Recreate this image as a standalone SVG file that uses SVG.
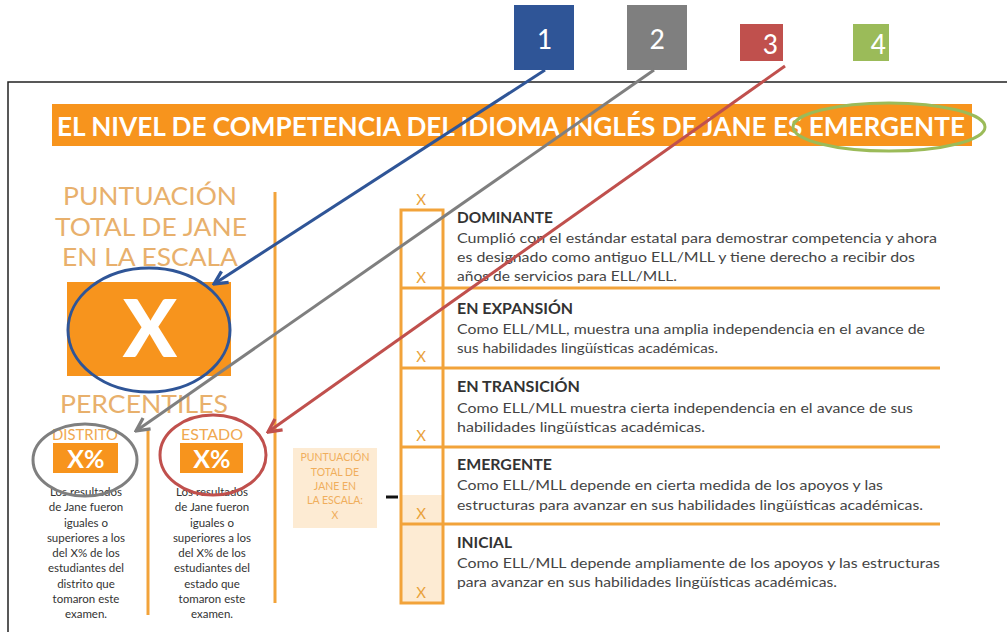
<svg xmlns="http://www.w3.org/2000/svg" width="1007" height="632" viewBox="0 0 1007 632">
<style>
.tan{font-family:Lato,"Open Sans",sans-serif;fill:#E8B06C;text-anchor:middle}
.wh{font-family:Lato,"Open Sans",sans-serif;font-weight:bold;fill:#fff;text-anchor:middle}
.sm{font-family:Lato,"Open Sans",sans-serif;font-size:11.5px;fill:#333;text-anchor:middle}
.hd{font-family:Lato,"Open Sans",sans-serif;font-size:15px;font-weight:bold;fill:#333}
.ds{font-family:Lato,"Open Sans",sans-serif;font-size:14px;fill:#444}
.xm{font-family:Lato,"Open Sans",sans-serif;font-size:15px;fill:#E9A23B;text-anchor:middle}
.ol{stroke:#F2A33A;stroke-width:3;fill:none}
.num{font-family:Calibri,"Liberation Sans",sans-serif;font-size:30px;fill:#fff;text-anchor:middle}
.conn{fill:none;stroke-width:3}
</style>
<defs>
<marker id="aB" viewBox="0 0 10 10" refX="9" refY="5" markerWidth="5.5" markerHeight="5.5" orient="auto"><path d="M1,1 L9,5 L1,9" fill="none" stroke="#2F5597" stroke-width="2"/></marker>
<marker id="aG" viewBox="0 0 10 10" refX="9" refY="5" markerWidth="5.5" markerHeight="5.5" orient="auto"><path d="M1,1 L9,5 L1,9" fill="none" stroke="#7F7F7F" stroke-width="2"/></marker>
<marker id="aR" viewBox="0 0 10 10" refX="9" refY="5" markerWidth="5.5" markerHeight="5.5" orient="auto"><path d="M1,1 L9,5 L1,9" fill="none" stroke="#C0504D" stroke-width="2"/></marker>
</defs>
<rect width="1007" height="632" fill="#fff"/>
<path d="M8,632 V82 H1007" fill="none" stroke="#222" stroke-width="1.5"/>

<g id="title">
<rect x="52" y="104" width="920" height="42" fill="#F7941D"/>
<text x="57" y="136" class="wh" style="text-anchor:start;font-size:27px" textLength="908" lengthAdjust="spacingAndGlyphs">EL NIVEL DE COMPETENCIA DEL IDIOMA INGLÉS DE JANE ES EMERGENTE</text>
</g>

<g id="score">
<text x="150" y="205" class="tan" style="font-size:25px" textLength="174" lengthAdjust="spacingAndGlyphs">PUNTUACIÓN</text>
<text x="151" y="236" class="tan" style="font-size:25px" textLength="192" lengthAdjust="spacingAndGlyphs">TOTAL DE JANE</text>
<text x="150" y="266" class="tan" style="font-size:25px" textLength="176" lengthAdjust="spacingAndGlyphs">EN LA ESCALA</text>
<rect x="67" y="282" width="164" height="94" fill="#F7941D"/>
<text x="150" y="357" class="wh" style="font-size:80px;font-weight:900">X</text>
</g>

<g id="percentiles">
<text x="144" y="413" class="tan" style="font-size:25px" textLength="168" lengthAdjust="spacingAndGlyphs">PERCENTILES</text>
<line x1="148" y1="430" x2="148" y2="615" class="ol"/>
<line x1="275" y1="192" x2="275" y2="603" class="ol"/>
</g>

<g id="distrito">
<text x="85" y="440" class="tan" style="font-size:16px;fill:#F0A850" textLength="66" lengthAdjust="spacingAndGlyphs">DISTRITO</text>
<rect x="53" y="443" width="65" height="30" fill="#F7941D"/>
<text x="86" y="468" class="wh" style="font-size:25px">X%</text>
<text class="sm"><tspan x="86" y="496">Los resultados</tspan><tspan x="86" y="511">de Jane fueron</tspan><tspan x="86" y="527">iguales o</tspan><tspan x="86" y="542">superiores a los</tspan><tspan x="86" y="557">del X% de los</tspan><tspan x="86" y="572">estudiantes del</tspan><tspan x="86" y="588">distrito que</tspan><tspan x="86" y="603">tomaron este</tspan><tspan x="86" y="618">examen.</tspan></text>
</g>

<g id="estado">
<text x="212" y="440" class="tan" style="font-size:16px;fill:#F0A850" textLength="62" lengthAdjust="spacingAndGlyphs">ESTADO</text>
<rect x="180" y="443" width="63" height="30" fill="#F7941D"/>
<text x="212" y="468" class="wh" style="font-size:25px">X%</text>
<text class="sm"><tspan x="212" y="496">Los resultados</tspan><tspan x="212" y="511">de Jane fueron</tspan><tspan x="212" y="527">iguales o</tspan><tspan x="212" y="542">superiores a los</tspan><tspan x="212" y="557">del X% de los</tspan><tspan x="212" y="572">estudiantes del</tspan><tspan x="212" y="588">estado que</tspan><tspan x="212" y="603">tomaron este</tspan><tspan x="212" y="618">examen.</tspan></text>
</g>

<g id="scorebox">
<rect x="293" y="448" width="84" height="80" fill="#FDEBD3"/>
<text class="tan" style="font-size:10.5px;fill:#F0AE5C"><tspan x="335" y="461">PUNTUACIÓN</tspan><tspan x="335" y="476">TOTAL DE</tspan><tspan x="335" y="490">JANE EN</tspan><tspan x="335" y="504">LA ESCALA:</tspan><tspan x="335" y="519">X</tspan></text>
<line x1="386" y1="497" x2="398" y2="497" stroke="#111" stroke-width="3"/>
</g>

<g id="levels">
<rect x="401" y="495" width="42" height="108" fill="#FDEBD3"/>
<rect x="401" y="210" width="42" height="393" class="ol"/>
<line x1="401" y1="288" x2="940" y2="288" class="ol"/>
<line x1="401" y1="368" x2="940" y2="368" class="ol"/>
<line x1="401" y1="447" x2="940" y2="447" class="ol"/>
<line x1="401" y1="524" x2="940" y2="524" class="ol"/>
<text x="421" y="205" class="xm">X</text>
<text x="421" y="283" class="xm">X</text>
<text x="421" y="362" class="xm">X</text>
<text x="421" y="441" class="xm">X</text>
<text x="421" y="519" class="xm">X</text>
<text x="421" y="598" class="xm">X</text>
</g>

<g id="dominante">
<text x="457" y="223" class="hd" textLength="96" lengthAdjust="spacingAndGlyphs">DOMINANTE</text>
<text x="457" y="243" class="ds" textLength="480" lengthAdjust="spacingAndGlyphs">Cumplió con el estándar estatal para demostrar competencia y ahora</text>
<text x="457" y="262" class="ds" textLength="458" lengthAdjust="spacingAndGlyphs">es designado como antiguo ELL/MLL y tiene derecho a recibir dos</text>
<text x="457" y="281" class="ds" textLength="220" lengthAdjust="spacingAndGlyphs">años de servicios para ELL/MLL.</text>
</g>
<g id="expansion">
<text x="457" y="314" class="hd" textLength="116" lengthAdjust="spacingAndGlyphs">EN EXPANSIÓN</text>
<text x="457" y="334" class="ds" textLength="468" lengthAdjust="spacingAndGlyphs">Como ELL/MLL, muestra una amplia independencia en el avance de</text>
<text x="457" y="353" class="ds" textLength="261" lengthAdjust="spacingAndGlyphs">sus habilidades lingüísticas académicas.</text>
</g>
<g id="transicion">
<text x="457" y="392" class="hd" textLength="123" lengthAdjust="spacingAndGlyphs">EN TRANSICIÓN</text>
<text x="457" y="413" class="ds" textLength="456" lengthAdjust="spacingAndGlyphs">Como ELL/MLL muestra cierta independencia en el avance de sus</text>
<text x="457" y="432" class="ds" textLength="248" lengthAdjust="spacingAndGlyphs">habilidades lingüísticas académicas.</text>
</g>
<g id="emergente">
<text x="457" y="470" class="hd" textLength="95" lengthAdjust="spacingAndGlyphs">EMERGENTE</text>
<text x="457" y="490" class="ds" textLength="426" lengthAdjust="spacingAndGlyphs">Como ELL/MLL depende en cierta medida de los apoyos y las</text>
<text x="457" y="510" class="ds" textLength="466" lengthAdjust="spacingAndGlyphs">estructuras para avanzar en sus habilidades lingüísticas académicas.</text>
</g>
<g id="inicial">
<text x="457" y="548" class="hd" textLength="55" lengthAdjust="spacingAndGlyphs">INICIAL</text>
<text x="457" y="568" class="ds" textLength="483" lengthAdjust="spacingAndGlyphs">Como ELL/MLL depende ampliamente de los apoyos y las estructuras</text>
<text x="457" y="587" class="ds" textLength="380" lengthAdjust="spacingAndGlyphs">para avanzar en sus habilidades lingüísticas académicas.</text>
</g>

<g id="callout1"><rect x="514" y="5" width="60" height="65" fill="#2F5597"/><text x="544" y="49" class="num">1</text></g>
<g id="callout2"><rect x="627" y="5" width="60" height="65" fill="#7F7F7F"/><text x="657" y="49" class="num">2</text></g>
<g id="callout3"><rect x="740" y="24" width="43" height="37" fill="#C0504D"/><text x="770" y="54" class="num">3</text></g>
<g id="callout4"><rect x="853" y="24" width="36" height="37" fill="#9BBB59"/><text x="878" y="54" class="num">4</text></g>

<g id="highlights">
<ellipse cx="149" cy="330" rx="81" ry="62" fill="none" stroke="#2F5597" stroke-width="3"/>
<ellipse cx="85" cy="460" rx="52" ry="36" fill="none" stroke="#7F7F7F" stroke-width="3"/>
<ellipse cx="213" cy="455" rx="53" ry="40" fill="none" stroke="#C0504D" stroke-width="3"/>
<ellipse cx="889" cy="127" rx="96" ry="24" fill="none" stroke="#9BBB59" stroke-width="3"/>
</g>

<g id="connectors">
<line x1="545" y1="70" x2="214" y2="284" class="conn" stroke="#2F5597" marker-end="url(#aB)"/>
<line x1="654" y1="70" x2="136" y2="431" class="conn" stroke="#7F7F7F" marker-end="url(#aG)"/>
<line x1="785" y1="66" x2="268" y2="432" class="conn" stroke="#C0504D" marker-end="url(#aR)"/>
</g>
</svg>
